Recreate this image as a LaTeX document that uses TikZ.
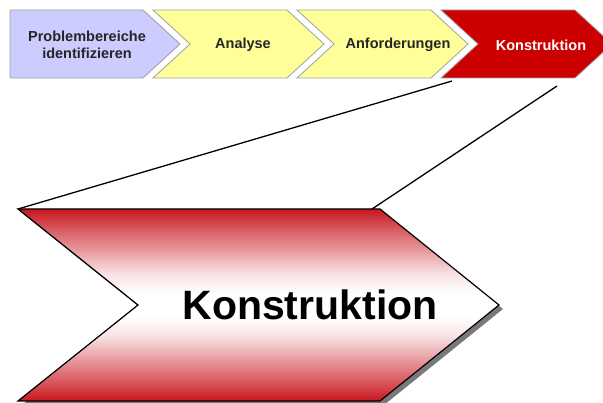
\documentclass[tikz,border=0pt]{standalone}
\usepackage{fontspec}
\setmainfont{Liberation Sans}
\usetikzlibrary{calc}

\definecolor{lila}{RGB}{204,204,255}
\definecolor{gelb}{RGB}{255,255,153}
\definecolor{rot}{RGB}{204,0,0}
\definecolor{verlauf}{RGB}{200,22,30}

\pgfdeclareverticalshading{kverlauf}{100bp}{color(0bp)=(verlauf); color(25bp)=(verlauf); color(30bp)=(verlauf!72!white); color(36bp)=(verlauf!42!white); color(42bp)=(verlauf!12!white); color(47bp)=(white); color(53bp)=(white); color(58bp)=(verlauf!12!white); color(64bp)=(verlauf!42!white); color(70bp)=(verlauf!72!white); color(75bp)=(verlauf); color(100bp)=(verlauf)}

\tikzset{
  pfeil/.style={draw=gray!75, line width=0.8pt},
  etikett/.style={font=\bfseries\fontsize{14.5}{17}\selectfont, align=center}
}

\begin{document}
\begin{tikzpicture}[x=1pt,y=-1pt]
            \useasboundingbox (0,0) rectangle (603,403);
            % obere Prozesskette
            \foreach \c/\f/\l/\d/\tx/\t [count=\n] in {lila/black!85/10/0/87/{Problembereiche\\identifizieren}, gelb/black!85/153/37/243/Analyse, gelb/black!85/297/37/398/Anforderungen, rot/white/441/37/541/Konstruktion} {
                \pgfmathsetmacro{\s}{143+144*(\n-1)}
                \draw [pfeil, fill=\c] (\l,10) -- (\s,10) -- (\s+37,44) -- (\s,78) -- (\l,78) -- (\l+\d,44) -- cycle;
                \node [etikett, text=\f] (T\n) at (\tx,45) {\t};
            }
            \coordinate (ausL) at (452,81);
            \coordinate (ausR) at (557,86);
            % grosser Pfeil
            \coordinate (gL) at (18,209);
            \coordinate (gR) at (372,209);
            \fill [gray!95!black] ($(gL)+(4,4)$) -- (384,213) -- (503,309) -- (384,405) -- (22,405) -- (142,309) -- cycle;
            \shade [shading=kverlauf, draw=black, line width=1.2pt]
                (gL) -- (380,209) -- (499,305) -- (380,401) -- (18,401) -- (138,305) -- cycle;
            \node [font=\bfseries\fontsize{41}{41}\selectfont, anchor=base] (gross) at (310,320) {Konstruktion};
            \draw [line width=1.3pt] (ausL) -- (gL);
            \draw [line width=1.3pt] (ausR) -- (gR);
        \end{tikzpicture}
\end{document}
